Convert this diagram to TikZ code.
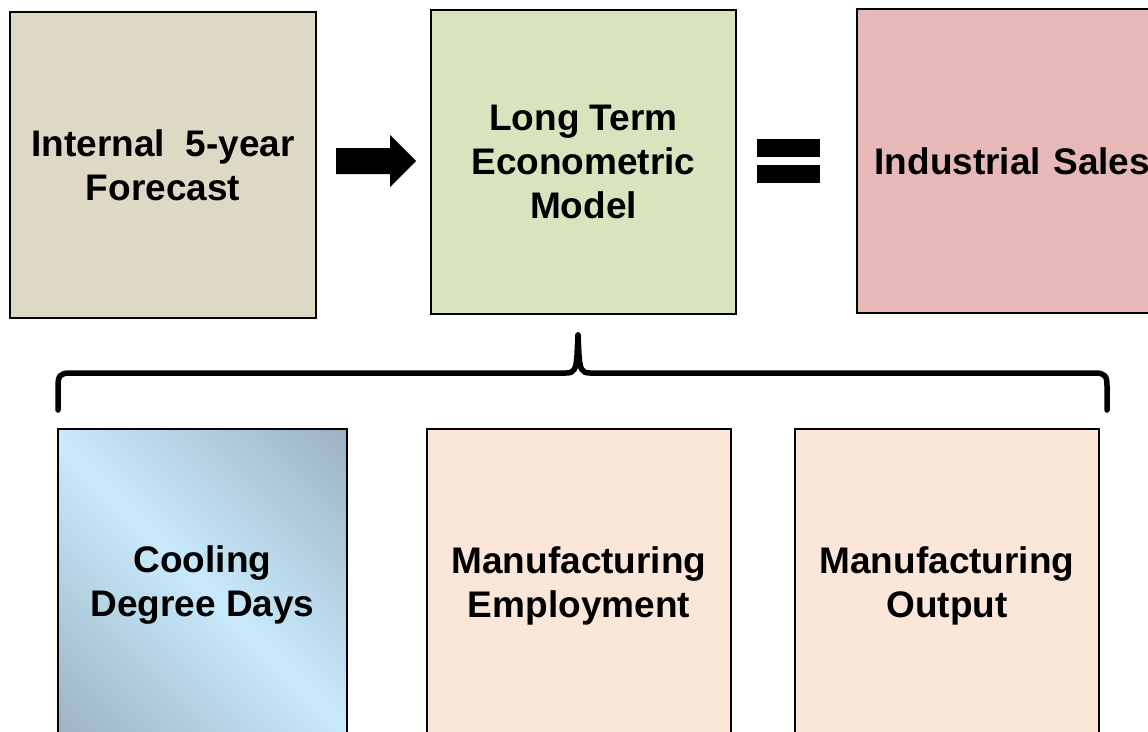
\documentclass[tikz,border=0pt]{standalone}
\usepackage{fontspec}
\setmainfont{Liberation Sans}
\definecolor{skyL}{HTML}{C8EAFC}
\definecolor{skyD}{HTML}{9AB1C0}
\pgfdeclareverticalshading{cddshade}{100bp}{color(0bp)=(skyD); color(14bp)=(skyD); color(50bp)=(skyL); color(86bp)=(skyD); color(100bp)=(skyD)}
\begin{document}
\begin{tikzpicture}[x=1pt,y=-1pt,
  box/.style={draw=black, line width=2.6pt, align=center, inner sep=0pt,
    font=\bfseries\fontsize{37}{44}\selectfont},
  blk/.style={fill=black, draw=none}]
\definecolor{tan}{HTML}{DDD9C4}
\definecolor{sage}{HTML}{D7E4BD}
\definecolor{rose}{HTML}{E6B9B8}
\definecolor{peach}{HTML}{FBE7D9}
\useasboundingbox (0,0) rectangle (1148,731);
\clip (0,0) rectangle (1148,731);
\node[box, fill=tan, minimum width=306pt, minimum height=306pt] (fc) at (163,165) {Internal\ \ 5-year\\Forecast};
\node[box, fill=sage, minimum width=305pt, minimum height=304pt] (ltm) at (583.5,162) {Long Term\\Econometric\\Model};
\node[box, fill=rose, minimum width=305pt, minimum height=304pt, text width=300pt, align=left] (ind) at (1009.5,161) {\hspace*{15pt}Industrial Sales};
\node[box, shading=cddshade, shading angle=-45, minimum width=289pt, minimum height=313pt] (cdd) at (202.5,585.5) {Cooling\\Degree Days};
\node[box, fill=peach, minimum width=304pt, minimum height=313pt] (me) at (579,585.5) {Manufacturing\\Employment};
\node[box, fill=peach, minimum width=304pt, minimum height=313pt] (mo) at (947,585.5) {Manufacturing\\Output};
% block arrow
\fill[blk] (336,148) -- (390,148) -- (390,135) -- (416,161) -- (390,187) -- (390,174) -- (336,174) -- cycle;
% equals sign
\node[blk, minimum width=63pt, minimum height=18pt, inner sep=0pt] (eq1) at (788.5,148) {};
\node[blk, minimum width=63pt, minimum height=18pt, inner sep=0pt] (eq2) at (788.5,174) {};
% brace
\draw[line width=5.5pt, line cap=round, line join=round]
  (58,410) -- (58,386) .. controls (58,376) and (60,373) .. (70,373)
  -- (566,373) .. controls (574,373) and (576,370) .. (577,355) -- (578,335);
\draw[line width=5.5pt, line cap=round, line join=round]
  (1107,410) -- (1107,386) .. controls (1107,376) and (1105,373) .. (1095,373)
  -- (590,373) .. controls (582,373) and (580,370) .. (579,355) -- (578,335);
\end{tikzpicture}
\end{document}
